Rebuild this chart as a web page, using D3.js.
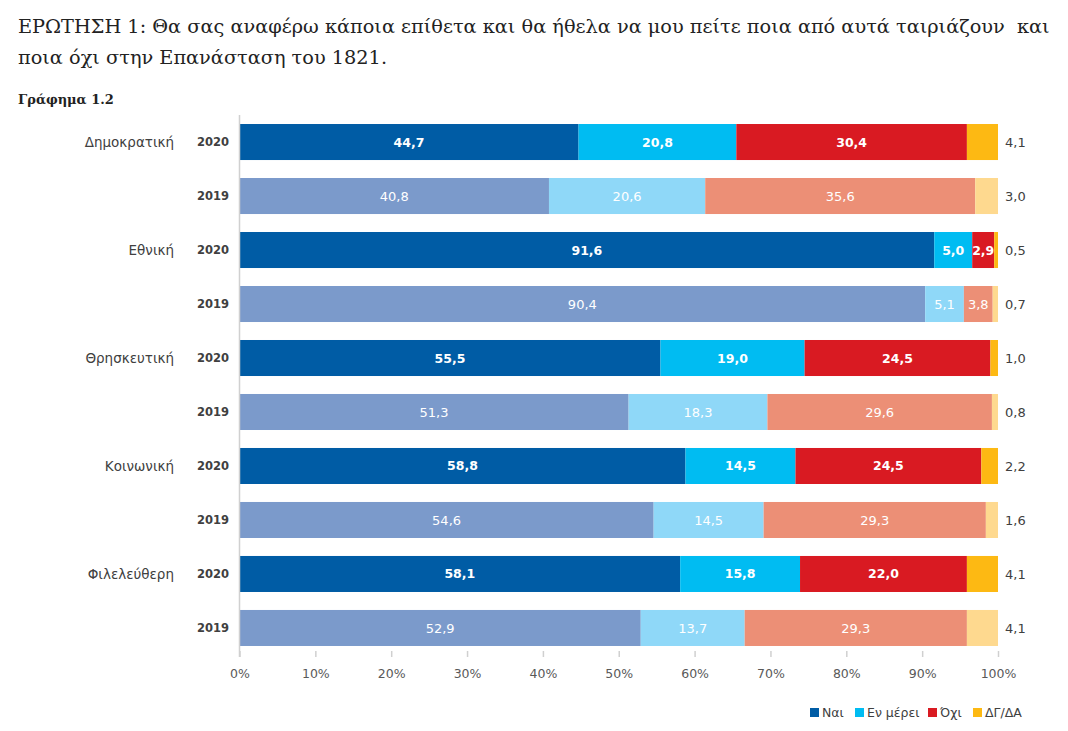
<!DOCTYPE html>
<html>
<head>
<meta charset="utf-8">
<script src="https://cdn.jsdelivr.net/npm/d3@7"></script>
<style>
  body { margin: 0; background: #fff; }
  .title { font-family: "DejaVu Serif", "Liberation Serif", serif; fill: #222; }
  .lbl { font-family: "DejaVu Sans", "Noto Sans", sans-serif; }
</style>
</head>
<body>
<svg id="chart" width="1068" height="731"></svg>
<script>
  // data
  const categories = ["Δημοκρατική", "Εθνική", "Θρησκευτική", "Κοινωνική", "Φιλελεύθερη"];
  const years = ["2020", "2019"];
  const seriesNames = ["Ναι", "Εν μέρει", "Όχι", "ΔΓ/ΔΑ"];
  const yes2020 = [44.7, 91.6, 55.5, 58.8, 58.1];
  const partly2020 = [20.8, 5.0, 19.0, 14.5, 15.8];
  const no2020 = [30.4, 2.9, 24.5, 24.5, 22.0];
  const dk2020 = [4.1, 0.5, 1.0, 2.2, 4.1];
  const yes2019 = [40.8, 90.4, 51.3, 54.6, 52.9];
  const partly2019 = [20.6, 5.1, 18.3, 14.5, 13.7];
  const no2019 = [35.6, 3.8, 29.6, 29.3, 29.3];
  const dk2019 = [3.0, 0.7, 0.8, 1.6, 4.1];
  const ticks = [0, 10, 20, 30, 40, 50, 60, 70, 80, 90, 100];

  const colors2020 = ["#005ca5", "#00bcf2", "#d91a22", "#fdb913"];
  const colors2019 = ["#7b9acb", "#8fd8f8", "#ec8f76", "#fed98f"];

  // build rows
  const rows = [];
  categories.forEach((c, i) => {
    rows.push({ cat: c, year: years[0], vals: [yes2020[i], partly2020[i], no2020[i], dk2020[i]], colors: colors2020 });
    rows.push({ cat: c, year: years[1], vals: [yes2019[i], partly2019[i], no2019[i], dk2019[i]], colors: colors2019 });
  });
  rows.forEach((r, i) => r.key = i);

  const fmt = v => d3.format(".1f")(v).replace(".", ",");
  const svg = d3.select("#chart");

  // title, sized so the first line spans the width like the original
  const t = svg.append("text").attr("class", "title").attr("font-size", 20);
  const l1 = t.append("tspan").attr("x", 18).attr("y", 33)
    .text("ΕΡΩΤΗΣΗ 1: Θα σας αναφέρω κάποια επίθετα και θα ήθελα να μου πείτε ποια από αυτά ταιριάζουν\u00a0 και");
  t.append("tspan").attr("x", 18).attr("y", 64)
    .text("ποια όχι στην Επανάσταση του 1821.");
  const w1 = l1.node().getComputedTextLength();
  t.attr("font-size", 20 * 1032 / w1);

  svg.append("text").attr("class", "title").attr("x", 18).attr("y", 104)
    .attr("font-size", 13).attr("font-weight", "bold").attr("fill", "#222")
    .text("Γράφημα 1.2");

  const x = d3.scaleLinear().domain([0, 100]).range([239.5, 998]);
  const y = d3.scaleBand().domain(rows.map(r => r.key)).range([115, 655])
    .paddingInner(0.333).paddingOuter(0.167);

  // bars
  const g = svg.selectAll(".row").data(rows).enter().append("g").attr("class", "row");
  g.each(function (r) {
    const total = d3.sum(r.vals);
    let acc = 0;
    const segs = r.vals.map((v, j) => {
      const s = { v: v, x0: acc / total * 100, x1: (acc + v) / total * 100, j: j };
      acc += v;
      return s;
    });
    const cy = y(r.key) + y.bandwidth() / 2;
    const row = d3.select(this);
    row.selectAll("rect").data(segs).enter().append("rect")
      .attr("x", d => x(d.x0))
      .attr("y", y(r.key))
      .attr("width", d => x(d.x1) - x(d.x0))
      .attr("height", y.bandwidth())
      .attr("fill", d => r.colors[d.j]);
    row.selectAll("text.val").data(segs.filter(d => d.j < 3)).enter().append("text")
      .attr("class", "lbl val")
      .attr("x", d => (x(d.x0) + x(d.x1)) / 2)
      .attr("y", cy)
      .attr("dy", "0.36em")
      .attr("text-anchor", "middle")
      .attr("font-size", r.year === "2020" ? 12.5 : 13)
      .attr("font-weight", r.year === "2020" ? "bold" : "normal")
      .attr("fill", "#fff")
      .text(d => fmt(d.v));
    // DK value outside the bar
    row.append("text").attr("class", "lbl")
      .attr("x", 1005)
      .attr("y", cy)
      .attr("dy", "0.36em")
      .attr("font-size", 13)
      .attr("fill", "#404040")
      .text(fmt(r.vals[3]));
    // year label
    row.append("text").attr("class", "lbl")
      .attr("x", 229)
      .attr("y", cy)
      .attr("dy", "0.36em")
      .attr("text-anchor", "end")
      .attr("font-size", 11.5)
      .attr("font-weight", "bold")
      .attr("fill", "#404040")
      .text(r.year);
    if (r.year === "2020") {
      row.append("text").attr("class", "lbl")
        .attr("x", 174)
        .attr("y", cy)
        .attr("dy", "0.36em")
        .attr("text-anchor", "end")
        .attr("font-size", 13.5)
        .attr("fill", "#404040")
        .text(r.cat);
    }
  });

  // vertical axis line
  svg.append("line")
    .attr("x1", x(0)).attr("x2", x(0))
    .attr("y1", 115).attr("y2", 657)
    .attr("stroke", "#d0d0d0").attr("stroke-width", 1.5);

  // x axis
  const xa = svg.append("g").attr("transform", "translate(0,651)")
    .call(d3.axisBottom(x).tickValues(ticks).tickSize(6).tickFormat(d => d + "%"));
  xa.select(".domain").remove();
  xa.selectAll(".tick line").attr("stroke", "#d0d0d0").attr("stroke-width", 1.5);
  xa.selectAll(".tick text").attr("class", "lbl").attr("font-size", 12.5)
    .attr("fill", "#595959").attr("y", 18);

  // legend
  const legX = [810, 855, 928, 973];
  const leg = svg.selectAll(".leg").data(seriesNames).enter().append("g")
    .attr("transform", (d, i) => `translate(${legX[i]},708)`);
  leg.append("rect").attr("width", 9).attr("height", 9).attr("fill", (d, i) => colors2020[i]);
  leg.append("text").attr("class", "lbl").attr("x", 12).attr("y", 9)
    .attr("font-size", 12.5).attr("fill", "#404040").text(d => d);
</script>
</body>
</html>
